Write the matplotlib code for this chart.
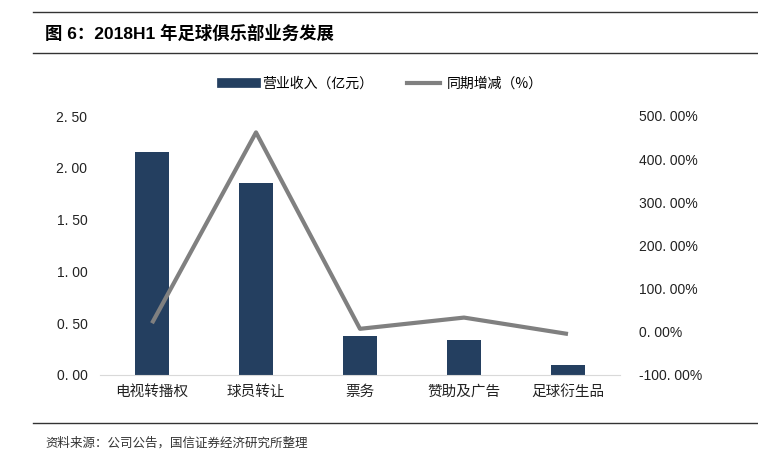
import matplotlib.pyplot as plt
import matplotlib.lines as mlines

plt.rcParams['font.family'] = ['Liberation Sans', 'Noto Sans CJK SC']
cjk = ['Noto Sans CJK SC', 'Liberation Sans']

# 数据
categories = ['电视转播权', '球员转让', '票务', '赞助及广告', '足球衍生品']
revenue = [2.15, 1.85, 0.38, 0.34, 0.10]          # 营业收入（亿元）
growth = [20, 462, 7, 33, -5]                      # 同期增减（%）
left_ticks = [0.0, 0.5, 1.0, 1.5, 2.0, 2.5]
right_ticks = [-100, 0, 100, 200, 300, 400, 500]

fig = plt.figure(figsize=(7.58, 4.54), dpi=100)
ax = fig.add_axes([100 / 758, 1 - 375 / 454, 520 / 758, 259 / 454])
ax2 = ax.twinx()

x = list(range(len(categories)))
ax.bar(x, revenue, width=0.32, color='#243F60', zorder=2)
ax2.plot(x, growth, color='#808080', linewidth=3, solid_capstyle='butt', zorder=3)

ax.set_xlim(-0.5, len(categories) - 0.5)
ax.set_ylim(0, 2.5)
ax2.set_ylim(-100, 500)
ax.set_yticks(left_ticks)
ax.set_yticklabels(['{:.2f}'.format(v).replace('.', '. ') for v in left_ticks])
ax2.set_yticks(right_ticks)
ax2.set_yticklabels(['{:.2f}%'.format(v).replace('.', '. ') for v in right_ticks])
ax.set_xticks(x)
ax.set_xticklabels(categories, family=cjk)

for a in (ax, ax2):
    for s in a.spines.values():
        s.set_visible(False)
    a.tick_params(length=0, labelsize=10, colors='#222222')
ax.spines['bottom'].set_visible(True)
ax.spines['bottom'].set_color('#d9d9d9')
ax.tick_params(axis='y', pad=9)
ax.tick_params(axis='x', pad=7, labelsize=10.5)
ax2.tick_params(axis='y', pad=14)

# 图例
bar_h = mlines.Line2D([], [], color='#243F60', linewidth=7)
line_h = mlines.Line2D([], [], color='#808080', linewidth=3)
fig.legend([bar_h, line_h], ['营业收入（亿元）', '同期增减（%）'], loc='center',
           bbox_to_anchor=(0.505, 1 - 84 / 454), ncol=2, frameon=False,
           prop={'family': cjk, 'size': 10}, handlelength=2.4,
           handletextpad=0.5, columnspacing=2.4)

# 标题与来源
for yy in (12, 53, 423):
    fig.add_artist(mlines.Line2D([33 / 758, 1], [1 - yy / 454] * 2,
                                 color='#333333', linewidth=1))
fig.text(45 / 758, 1 - 33 / 454, '图 6：2018H1 年足球俱乐部业务发展', fontsize=12.5,
         fontweight='bold', va='center', ha='left')
fig.text(45 / 758, 1 - 443 / 454, '资料来源：公司公告，国信证券经济研究所整理', fontsize=9,
         va='center', ha='left', color='#333333', family=cjk)

fig.savefig('out.png', dpi=100)
